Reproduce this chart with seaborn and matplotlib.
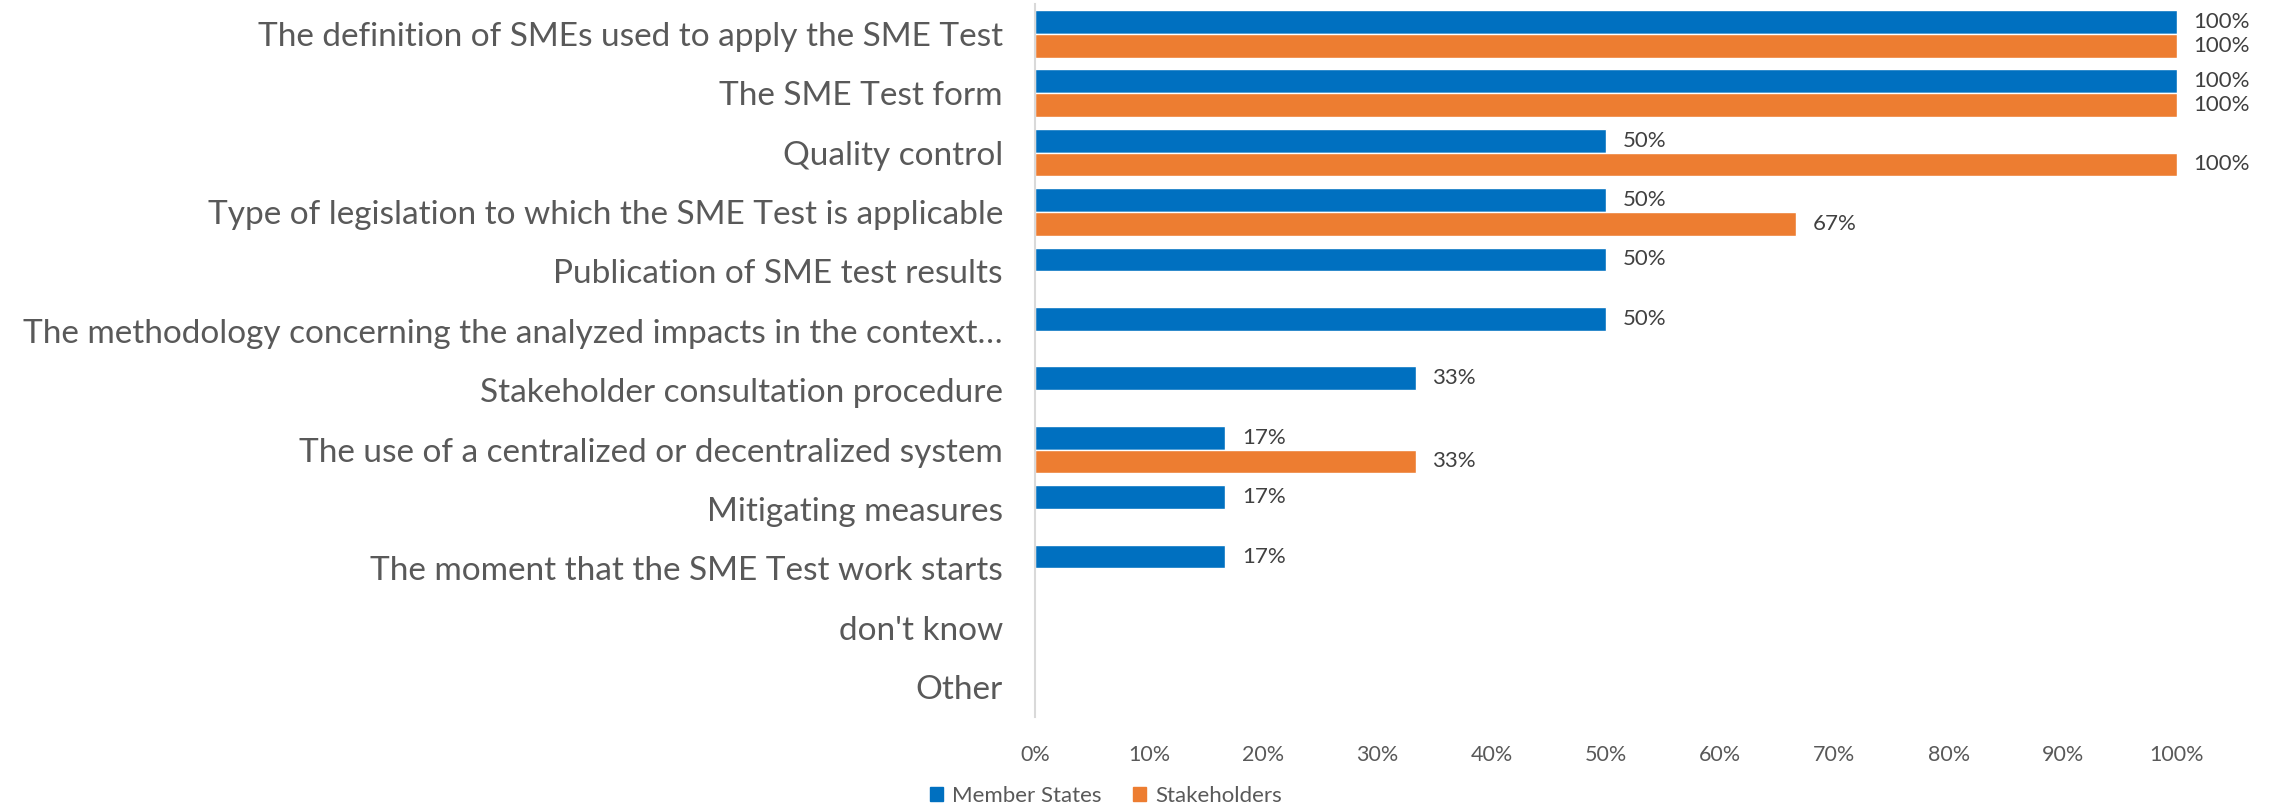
import numpy as np
import pandas as pd
import matplotlib
matplotlib.use('Agg')
import matplotlib.pyplot as plt
import seaborn as sns

# data
categories = [
    "The definition of SMEs used to apply the SME Test",
    "The SME Test form",
    "Quality control",
    "Type of legislation to which the SME Test is applicable",
    "Publication of SME test results",
    "The methodology concerning the analyzed impacts in the context\u2026",
    "Stakeholder consultation procedure",
    "The use of a centralized or decentralized system",
    "Mitigating measures",
    "The moment that the SME Test work starts",
    "don't know",
    "Other",
]
member_states = [1.0, 1.0, 0.5, 0.5, 0.5, 0.5, 0.3333, 0.1667, 0.1667, 0.1667, 0.0, 0.0]
stakeholders = [1.0, 1.0, 1.0, 0.6667, 0.0, 0.0, 0.0, 0.3333, 0.0, 0.0, 0.0, 0.0]
series = ["Member States", "Stakeholders"]
colors = ["#0070C0", "#ED7D31"]

df = pd.DataFrame({
    "category": categories * 2,
    "value": member_states + stakeholders,
    "group": [series[0]] * len(categories) + [series[1]] * len(categories),
})

sns.set_style("white")
plt.rcParams['font.family'] = ['Lato', 'DejaVu Sans']

fig = plt.figure(figsize=(22.71, 8.11), dpi=100)
ax = fig.add_axes([0.4557, 0.116, 0.5029, 0.879])

sns.barplot(data=df, y="category", x="value", hue="group", orient="h",
            palette=colors, width=0.8, ax=ax, legend=False, saturation=1)

# value labels, only for non-zero bars
for cont in ax.containers:
    labels = [f"{v*100:.0f}%" if v > 0 else "" for v in cont.datavalues]
    ax.bar_label(cont, labels=labels, padding=12, fontsize=16, color="#404040")

ax.set_xlim(0, 1)
ax.set_xticks(np.arange(0, 1.01, 0.1))
ax.set_xticklabels([f"{int(round(t*100))}%" for t in np.arange(0, 1.01, 0.1)],
                   fontsize=15.5, color="#595959")
ax.tick_params(axis="x", length=0, pad=20)
ax.tick_params(axis="y", length=0, pad=23, labelsize=24, labelcolor="#595959")
ax.set_xlabel("")
ax.set_ylabel("")

for s in ["top", "right", "bottom"]:
    ax.spines[s].set_visible(False)
ax.spines["left"].set_color("#D9D9D9")
ax.spines["left"].set_linewidth(1.5)

handles = [plt.Rectangle((0, 0), 1, 1, color=c) for c in colors]
fig.legend(handles, series, loc="lower center", bbox_to_anchor=(0.487, -0.018),
           ncol=2, frameon=False, fontsize=16, handlelength=0.6, handleheight=0.6,
           columnspacing=1.4, handletextpad=0.4, labelcolor="#595959")

fig.savefig("out.png", dpi=100)
